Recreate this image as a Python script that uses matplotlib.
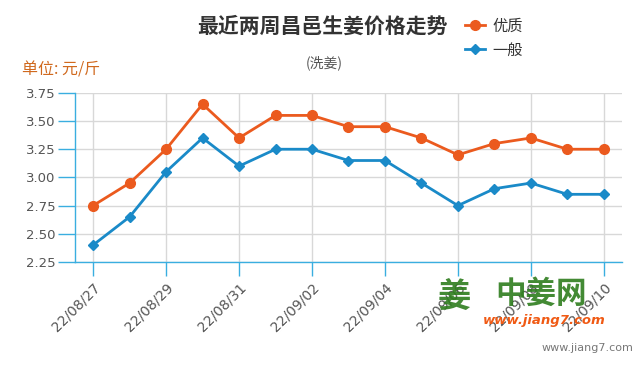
import matplotlib
matplotlib.use('Agg')
import matplotlib.pyplot as plt
from matplotlib.lines import Line2D

plt.rcParams['font.family'] = ['Noto Sans CJK SC', 'DejaVu Sans']

# data
dates = ['22/08/27', '22/08/28', '22/08/29', '22/08/30', '22/08/31', '22/09/01',
         '22/09/02', '22/09/03', '22/09/04', '22/09/05', '22/09/06', '22/09/07',
         '22/09/08', '22/09/09', '22/09/10']
youzhi = [2.75, 2.95, 3.25, 3.65, 3.35, 3.55, 3.55, 3.45, 3.45, 3.35, 3.20, 3.30, 3.35, 3.25, 3.25]
yiban = [2.40, 2.65, 3.05, 3.35, 3.10, 3.25, 3.25, 3.15, 3.15, 2.95, 2.75, 2.90, 2.95, 2.85, 2.85]
yticks = [2.25, 2.50, 2.75, 3.00, 3.25, 3.50, 3.75]

orange = '#eb5a1e'
blue = '#1a8ac8'
axcol = '#3aaee0'
txtcol = '#555555'

fig = plt.figure(figsize=(6.4, 3.7), dpi=100)
ax = fig.add_axes([0.117, 0.292, 0.855, 0.457])

x = list(range(len(dates)))
ax.plot(x, youzhi, color=orange, lw=2, marker='o', markersize=7, zorder=3)
ax.plot(x, yiban, color=blue, lw=2, marker='D', markersize=5.5, zorder=3)

ax.set_xlim(-0.5, 14.5)
ax.set_ylim(2.25, 3.75)
ax.set_yticks(yticks)
ax.set_yticklabels(['%.2f' % v for v in yticks], color=txtcol, fontsize=9.5, family='DejaVu Sans')
ax.set_xticks(x[::2])
ax.set_xticklabels(dates[::2], rotation=45, ha='right', va='top', rotation_mode='anchor',
                   color=txtcol, fontsize=10, family='DejaVu Sans')

ax.grid(True, color='#d8d8d8', lw=1)
ax.set_axisbelow(True)
for s in ['top', 'right']:
    ax.spines[s].set_visible(False)
for s in ['left', 'bottom']:
    ax.spines[s].set_color(axcol)
    ax.spines[s].set_linewidth(1)
ax.tick_params(axis='both', colors=axcol, length=10, width=1, labelcolor=txtcol)
ax.tick_params(axis='x', pad=3)
ax.tick_params(axis='y', length=12, pad=2)

# titles
fig.text(0.503, 0.928, '最近两周昌邑生姜价格走势', ha='center', va='center',
         fontsize=15, fontweight='bold', color='#333333')
fig.text(0.506, 0.83, '(洗姜)', ha='center', va='center', fontsize=10, color='#555555')
fig.text(0.034, 0.81, '单位: 元/斤', ha='left', va='center', fontsize=11.5, color='#d0691e')

# legend
handles = [Line2D([], [], color=orange, lw=2, marker='o', markersize=7),
           Line2D([], [], color=blue, lw=2, marker='D', markersize=5.5)]
fig.legend(handles, ['优质', '一般'], loc='upper left', bbox_to_anchor=(0.705, 0.99),
           frameon=False, fontsize=11, handlelength=1.3, handletextpad=0.5,
           labelspacing=0.45, labelcolor='#333333')

# watermark
fig.text(0.71, 0.195, '姜', ha='center', va='center', fontsize=24, color='#2e7d1e',
         fontweight='bold', alpha=0.9)
fig.text(0.845, 0.205, '中姜网', ha='center', va='center', fontsize=22, color='#2e7d1e',
         fontweight='bold', alpha=0.9)
fig.text(0.85, 0.135, 'www.jiang7.com', ha='center', va='center', fontsize=9.5,
         color='#f05a14', fontweight='bold', style='italic', family='DejaVu Sans')
fig.text(0.99, 0.06, 'www.jiang7.com', ha='right', va='center', fontsize=8,
         color='#777777', family='DejaVu Sans')

fig.savefig('out.png', dpi=100, facecolor='white')
